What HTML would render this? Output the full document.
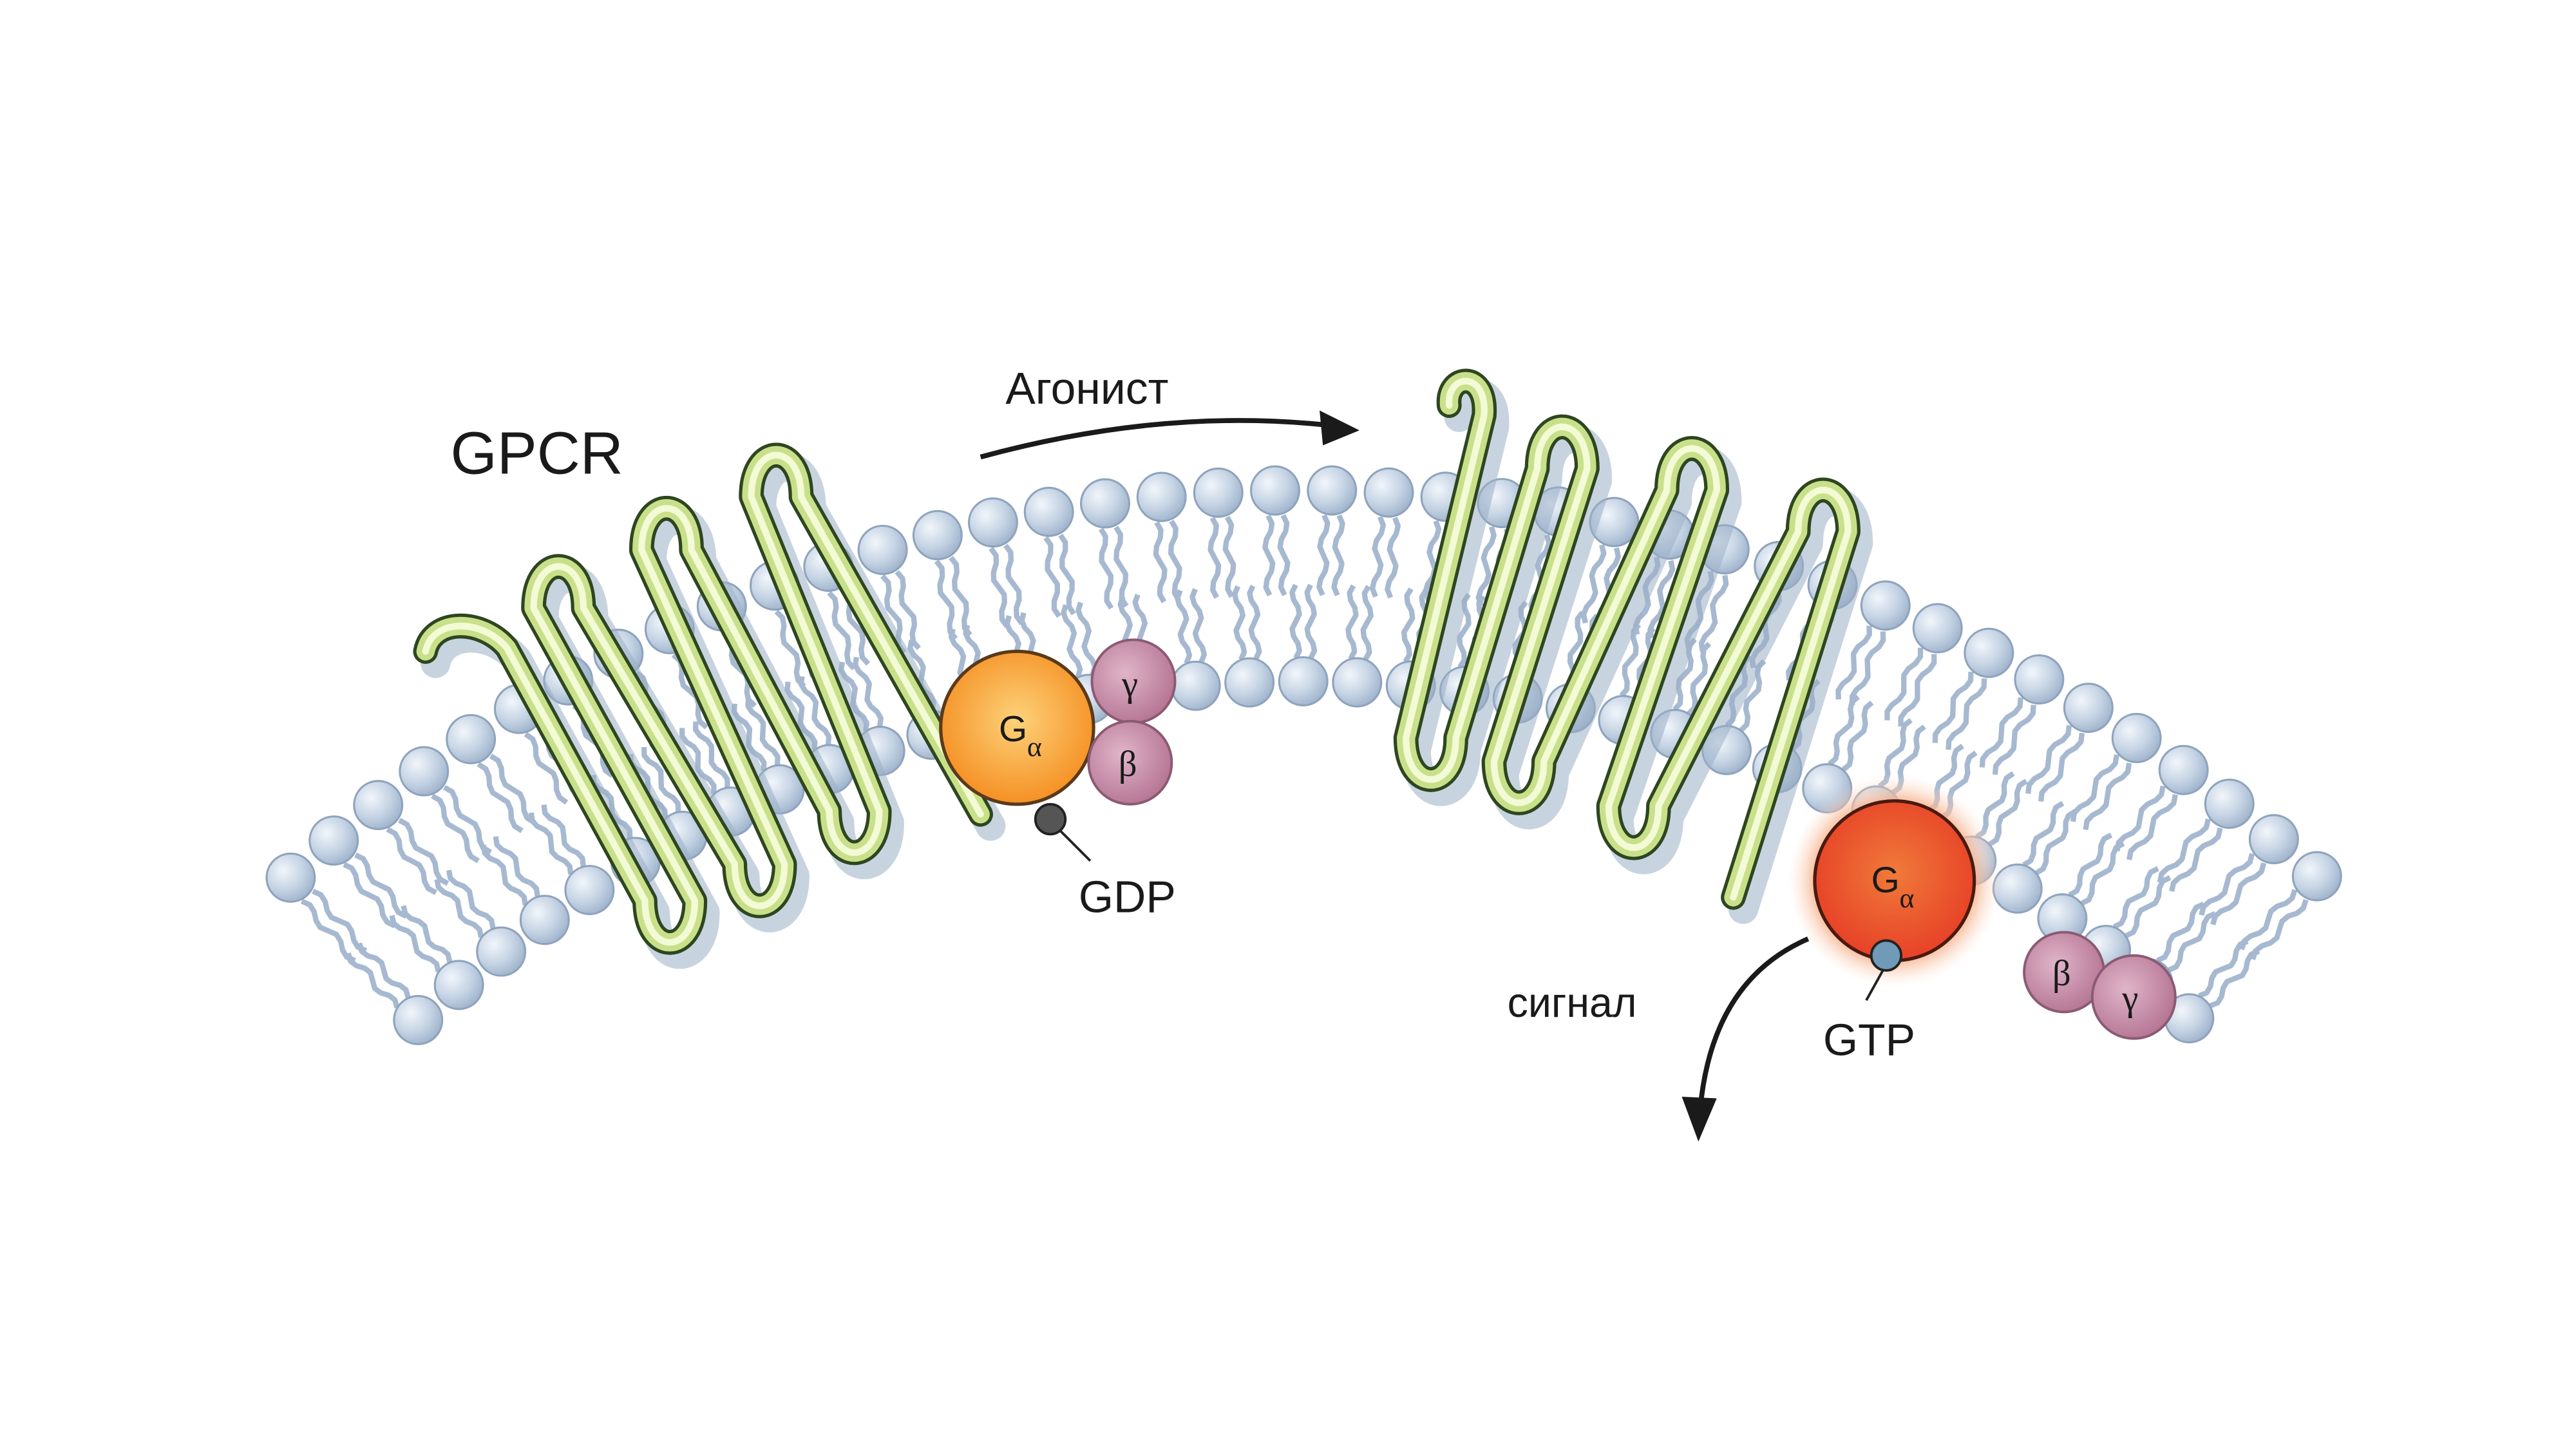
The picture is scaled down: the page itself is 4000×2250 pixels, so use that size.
<!DOCTYPE html>
<html><head><meta charset="utf-8"><style>
html,body{margin:0;padding:0;background:#fff;}
svg{display:block;}
text{font-family:"Liberation Sans",sans-serif;fill:#1a1a1a;}
</style></head><body>
<svg id="s" width="4000" height="2250" viewBox="0 0 1550 872" xmlns="http://www.w3.org/2000/svg">
<defs>
<radialGradient id="hd" cx="0.35" cy="0.35" r="0.7"><stop offset="0" stop-color="#f2f6fb"/><stop offset="0.6" stop-color="#c3d2e3"/><stop offset="1" stop-color="#9fb3cb"/></radialGradient>
<radialGradient id="ga" cx="0.5" cy="0.45" r="0.6"><stop offset="0" stop-color="#fdd27a"/><stop offset="1" stop-color="#f48a1c"/></radialGradient>
<radialGradient id="gr" cx="0.5" cy="0.45" r="0.6"><stop offset="0" stop-color="#f07a3a"/><stop offset="1" stop-color="#e63c25"/></radialGradient>
<radialGradient id="halo" cx="0.5" cy="0.5" r="0.5"><stop offset="0.7" stop-color="#f5a57a"/><stop offset="1" stop-color="#fde6d8" stop-opacity="0"/></radialGradient>
<radialGradient id="pu" cx="0.4" cy="0.4" r="0.65"><stop offset="0" stop-color="#e0b5c9"/><stop offset="1" stop-color="#b47392"/></radialGradient>
</defs>
<g id="mem"></g>
<g id="rec"></g>
<!-- left G protein -->
<circle cx="612" cy="438" r="46" fill="url(#ga)" stroke="#5a3a1a" stroke-width="2"/>
<text x="601" y="446" font-size="22">G</text><text x="618" y="455" font-size="17" style="font-family:'Liberation Serif',serif">α</text>
<circle cx="682" cy="410" r="25" fill="url(#pu)" stroke="#8a5a72" stroke-width="1.5"/>
<text x="675" y="419" font-size="22" style="font-family:'Liberation Serif',serif">γ</text>
<circle cx="680" cy="459" r="25" fill="url(#pu)" stroke="#8a5a72" stroke-width="1.5"/>
<text x="673" y="467" font-size="22" style="font-family:'Liberation Serif',serif">β</text>
<circle cx="632" cy="493" r="9" fill="#555" stroke="#222" stroke-width="1.5"/>
<line x1="638" y1="500" x2="656" y2="518" stroke="#222" stroke-width="1.5"/>
<text x="649" y="549" font-size="27">GDP</text>
<!-- right G protein -->
<circle cx="1140" cy="530" r="64" fill="url(#halo)"/>
<circle cx="1140" cy="530" r="48" fill="url(#gr)" stroke="#4a1a10" stroke-width="2"/>
<text x="1126" y="537" font-size="22">G</text><text x="1143" y="546" font-size="17" style="font-family:'Liberation Serif',serif">α</text>
<circle cx="1135" cy="575" r="9" fill="#6f9ab8" stroke="#222" stroke-width="1.5"/>
<line x1="1133" y1="584" x2="1123" y2="602" stroke="#222" stroke-width="1.5"/>
<text x="1097" y="635" font-size="27">GTP</text>
<circle cx="1242" cy="585" r="24" fill="url(#pu)" stroke="#8a5a72" stroke-width="1.5"/>
<text x="1235" y="593" font-size="22" style="font-family:'Liberation Serif',serif">β</text>
<circle cx="1284" cy="600" r="25" fill="url(#pu)" stroke="#8a5a72" stroke-width="1.5"/>
<text x="1277" y="608" font-size="22" style="font-family:'Liberation Serif',serif">γ</text>
<!-- labels and arrows -->
<text x="271" y="285" font-size="36">GPCR</text>
<text x="605" y="243" font-size="27">Агонист</text>
<path d="M590 275 Q700 245 800 256" fill="none" stroke="#1a1a1a" stroke-width="3"/>
<polygon points="818,259 794,247 796,268" fill="#1a1a1a"/>
<text x="907" y="612" font-size="25">сигнал</text>
<path d="M1088 565 Q1030 590 1023 668" fill="none" stroke="#1a1a1a" stroke-width="3"/>
<polygon points="1022,687 1012,660 1033,661" fill="#1a1a1a"/>
</svg>
<script>
var NS="http://www.w3.org/2000/svg";
var mem=document.getElementById("mem"),rec=document.getElementById("rec");
function el(t,a,p){var e=document.createElementNS(NS,t);for(var k in a)e.setAttribute(k,a[k]);(p||mem).appendChild(e);return e;}
var CX=785,CY=1210;
function tails(t,r0,r1){
  var s=Math.sin(t),c=Math.cos(t);
  for(var o=-4.5;o<=4.5;o+=9){
    var d="";var n=10;
    for(var i=0;i<=n;i++){
      var r=r0+(r1-r0)*i/n;var w=Math.sin(i*Math.PI/2.5)*2.3+o;
      var x=CX+r*s+w*c,y=CY-r*c+w*s;
      d+=(i?"L":"M")+x.toFixed(1)+" "+y.toFixed(1);
    }
    el("path",{d:d,fill:"none",stroke:"#a6b9d0","stroke-width":3.2,"stroke-linejoin":"round"});
  }
}
function head(t,r){el("circle",{cx:CX+r*Math.sin(t),cy:CY-r*Math.cos(t),r:14.5,fill:"url(#hd)",stroke:"#8ea3bd","stroke-width":1.2});}
var up=[],lo=[];
for(var t=-0.73;t<=0.7301;t+=0.0374)up.push(t);
for(var t=-0.73;t<=0.7301;t+=0.0405)lo.push(t);
up.forEach(function(t){tails(t,900,852);});
lo.forEach(function(t){tails(t,814,858);});
lo.forEach(function(t){head(t,800);});
up.forEach(function(t){head(t,915);});
function rpath(P,hw){
  var d="M"+P[0][0]+" "+P[0][1]+" "+P[1];
  var pts=P.slice(2,P.length-1),end=P[P.length-1];
  pts.forEach(function(p,i){
    var cx=p[0],cy=p[1],b=(i%2==0);
    if(b){d+=" L"+(cx-hw)+" "+(cy-14)+" C"+(cx-hw)+" "+(cy+hw*1.3)+" "+(cx+hw)+" "+(cy+hw*1.3)+" "+(cx+hw)+" "+(cy-14);}
    else{d+=" L"+(cx-hw)+" "+(cy+14)+" C"+(cx-hw)+" "+(cy-hw*1.3)+" "+(cx+hw)+" "+(cy-hw*1.3)+" "+(cx+hw)+" "+(cy+14);}
  });
  d+=" L"+end[0]+" "+end[1];
  return d;
}
function draw(d){
  el("path",{d:d,fill:"none",stroke:"#9aaec7","stroke-width":18,opacity:0.55,transform:"translate(6,7)","stroke-linecap":"round","stroke-linejoin":"round"},rec);
  el("path",{d:d,fill:"none",stroke:"#2e4620","stroke-width":15,"stroke-linecap":"round","stroke-linejoin":"round"},rec);
  el("path",{d:d,fill:"none",stroke:"#c9e08a","stroke-width":11,"stroke-linecap":"round","stroke-linejoin":"round"},rec);
  el("path",{d:d,fill:"none",stroke:"#f3fad6","stroke-width":4,"stroke-linecap":"round","stroke-linejoin":"round"},rec);
}
draw(rpath([[256,392],"C260,372 290,372 305,390",[403,556],[336,352],[457,534],[401,317],[514,502],[467,285],[590,490]],15));
draw(rpath([[872,244],"C870,225 895,222 893,250",[861,458],[940,268],[914,472],[1018,281],[983,499],[1097,306],[1043,540]],15));
</script>
</body></html>
